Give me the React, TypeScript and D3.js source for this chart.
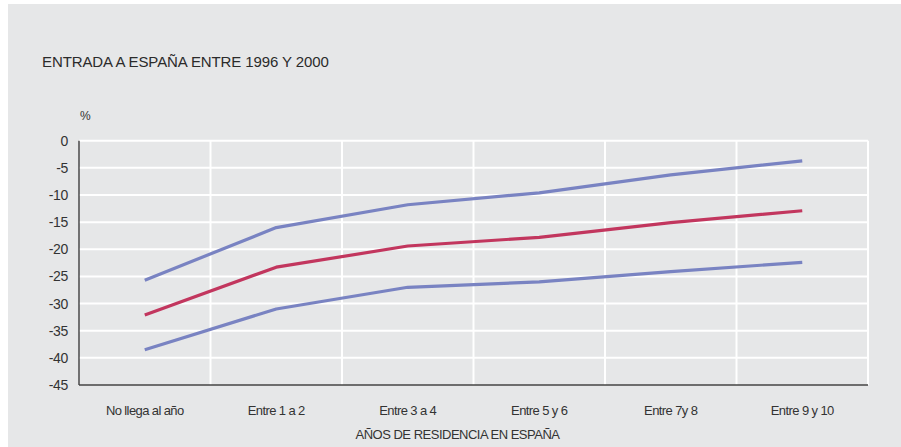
import React, { useEffect, useRef } from 'react';
import * as d3 from 'd3';

const categories = ['No llega al año', 'Entre 1 a 2', 'Entre 3 a 4', 'Entre 5 y 6', 'Entre 7y 8', 'Entre 9 y 10'];
const upperBand = [-25.7, -16.0, -11.8, -9.6, -6.3, -3.7];
const estimate = [-32.1, -23.3, -19.4, -17.8, -15.1, -12.9];
const lowerBand = [-38.5, -31.0, -27.0, -26.0, -24.1, -22.4];
const yTicks = [0, -5, -10, -15, -20, -25, -30, -35, -40, -45];

export default function App() {
  const svgRef = useRef<SVGSVGElement>(null);

  useEffect(() => {
    if (!svgRef.current) return;
    drawChart();
  }, []);

  const drawChart = () => {
    const svg = d3.select(svgRef.current);
    svg.selectAll('*').remove();

    const W = 901;
    const H = 447;
    const margin = { top: 140.7, right: 33, bottom: 62, left: 79 };
    const width = W - margin.left - margin.right;
    const height = 385 - margin.top;
    const font = '"Liberation Sans", Arial, sans-serif';

    svg.attr('width', W).attr('height', H);

    // background panel
    svg.append('rect')
      .attr('x', 8)
      .attr('y', 4)
      .attr('width', W - 8)
      .attr('height', H - 4)
      .attr('fill', '#e6e7e8');

    svg.append('text')
      .attr('x', 42)
      .attr('y', 67)
      .style('font-family', font)
      .style('font-size', '15px')
      .style('letter-spacing', '-0.1px')
      .style('fill', '#2b2b2b')
      .text('ENTRADA A ESPAÑA ENTRE 1996 Y 2000');

    const g = svg.append('g').attr('transform', `translate(${margin.left},${margin.top})`);

    const x = d3.scaleBand().domain(categories).range([0, width]);
    const y = d3.scaleLinear().domain([-45, 0]).range([height, 0]);

    // grid
    g.selectAll('.hgrid')
      .data(yTicks.filter((t) => t !== -45))
      .enter()
      .append('line')
      .attr('x1', 0)
      .attr('x2', width)
      .attr('y1', (d) => y(d))
      .attr('y2', (d) => y(d))
      .attr('stroke', '#fff')
      .attr('stroke-width', 2);

    const bounds = categories.slice(1).map((c) => x(c) as number).concat([width]);
    g.selectAll('.vgrid')
      .data(bounds)
      .enter()
      .append('line')
      .attr('x1', (d) => d)
      .attr('x2', (d) => d)
      .attr('y1', 0)
      .attr('y2', height)
      .attr('stroke', '#fff')
      .attr('stroke-width', 2);

    // axes lines
    g.append('line')
      .attr('x1', 0).attr('x2', 0).attr('y1', 0).attr('y2', height)
      .attr('stroke', '#222').attr('stroke-width', 1.2);
    g.append('line')
      .attr('x1', 0).attr('x2', width).attr('y1', height).attr('y2', height)
      .attr('stroke', '#444').attr('stroke-width', 1.5);

    // y labels
    g.selectAll('.ylab')
      .data(yTicks)
      .enter()
      .append('text')
      .attr('x', -11)
      .attr('y', (d) => y(d) + 5)
      .attr('text-anchor', 'end')
      .style('font-family', font)
      .style('font-size', '14px')
      .style('letter-spacing', '-0.3px')
      .style('fill', '#333')
      .text((d) => d3.format('d')(d).replace('−', '-'));

    g.append('text')
      .attr('x', 1)
      .attr('y', -21)
      .style('font-family', font)
      .style('font-size', '12px')
      .style('fill', '#333')
      .text('%');

    // x labels
    g.selectAll('.xlab')
      .data(categories)
      .enter()
      .append('text')
      .attr('x', (d) => (x(d) as number) + x.bandwidth() / 2)
      .attr('y', height + 30)
      .attr('text-anchor', 'middle')
      .style('font-family', font)
      .style('font-size', '13px')
      .style('letter-spacing', '-0.6px')
      .style('fill', '#333')
      .text((d) => d);

    g.append('text')
      .attr('x', width / 2 - 16)
      .attr('y', height + 54)
      .attr('text-anchor', 'middle')
      .style('font-family', font)
      .style('font-size', '13px')
      .style('letter-spacing', '-0.5px')
      .style('fill', '#333')
      .text('AÑOS DE RESIDENCIA EN ESPAÑA');

    const line = d3
      .line<number>()
      .x((_, i) => (x(categories[i]) as number) + x.bandwidth() / 2)
      .y((d) => y(d));

    const series = [
      { values: upperBand, color: '#7983c2' },
      { values: lowerBand, color: '#7983c2' },
      { values: estimate, color: '#c2365e' },
    ];

    series.forEach((s) => {
      g.append('path')
        .datum(s.values)
        .attr('fill', 'none')
        .attr('stroke', s.color)
        .attr('stroke-width', 3.2)
        .attr('stroke-linejoin', 'round')
        .attr('d', line);
    });
  };

  return (
    <svg ref={svgRef} style={{ position: 'absolute', left: 0, top: 0, display: 'block' }}></svg>
  );
}
